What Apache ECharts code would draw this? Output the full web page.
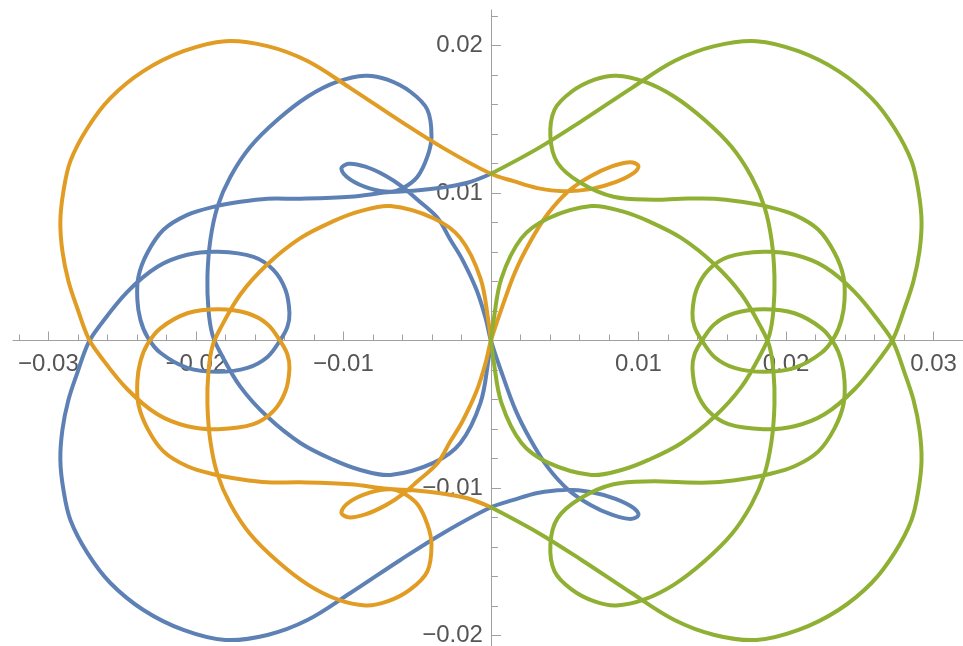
<!DOCTYPE html>
<html>
<head>
<meta charset="utf-8">
<script src="https://cdn.jsdelivr.net/npm/echarts@6/dist/echarts.min.js"></script>
<style>
  html, body { margin: 0; padding: 0; background: #fff; }
  #chart { width: 963px; height: 646px; }
</style>
</head>
<body>
<div id="chart"></div>
<script>
// curve points, [x, y]
const blueCurve = [
  [0, 0.01130], [-0.00159, 0.01069], [-0.00342, 0.01035], [-0.00525, 0.01015],
  [-0.00702, 0.01005], [-0.00953, 0.00974], [-0.01292, 0.00961], [-0.01515, 0.00961],
  [-0.01698, 0.00940], [-0.01881, 0.00906], [-0.02058, 0.00852], [-0.02220, 0.00751],
  [-0.02329, 0.00595], [-0.02390, 0.00432], [-0.02397, 0.00276], [-0.02376, 0.00140],
  [-0.02329, 0.00025], [-0.02241, -0.00083], [-0.02058, -0.00185], [-0.01848, -0.00212],
  [-0.01651, -0.00185], [-0.01515, -0.00111], [-0.01427, 0.00005], [-0.01380, 0.00093],
  [-0.01366, 0.00188], [-0.01393, 0.00344], [-0.01475, 0.00479], [-0.01610, 0.00567],
  [-0.01848, 0.00601], [-0.02058, 0.00581], [-0.02261, 0.00500], [-0.02465, 0.00330],
  [-0.02648, 0.00106], [-0.02729, -0.00016], [-0.02804, -0.00219], [-0.02864, -0.00402],
  [-0.02905, -0.00605], [-0.02919, -0.00809], [-0.02898, -0.01012], [-0.02851, -0.01216],
  [-0.02736, -0.01439], [-0.02580, -0.01643], [-0.02356, -0.01826], [-0.02085, -0.01961],
  [-0.01800, -0.02029], [-0.01515, -0.01995], [-0.01244, -0.01894], [-0.00953, -0.01711],
  [-0.00614, -0.01487], [-0.00322, -0.01304], [0, -0.01130], [0.00153, -0.01080],
  [0.00315, -0.01033], [0.00492, -0.01012], [0.00675, -0.01026], [0.00844, -0.01073],
  [0.00966, -0.01134], [0.01000, -0.01182], [0.00946, -0.01209], [0.00824, -0.01182],
  [0.00675, -0.01114], [0.00525, -0.01012], [0.00383, -0.00856], [0.00268, -0.00673],
  [0.00166, -0.00470], [0.00078, -0.00233], [0, 0], [-0.00037, 0.00154],
  [-0.00098, 0.00344], [-0.00193, 0.00547], [-0.00275, 0.00683], [-0.00363, 0.00832],
  [-0.00498, 0.00954], [-0.00600, 0.01042], [-0.00715, 0.01117], [-0.00851, 0.01178],
  [-0.00966, 0.01198], [-0.01014, 0.01164], [-0.00953, 0.01090], [-0.00817, 0.01029],
  [-0.00681, 0.01008], [-0.00593, 0.01035], [-0.00498, 0.01110], [-0.00431, 0.01246],
  [-0.00403, 0.01381], [-0.00431, 0.01564], [-0.00546, 0.01686], [-0.00702, 0.01768],
  [-0.00851, 0.01795], [-0.01041, 0.01754], [-0.01244, 0.01652], [-0.01447, 0.01496],
  [-0.01631, 0.01313], [-0.01766, 0.01110], [-0.01854, 0.00906], [-0.01902, 0.00683],
  [-0.01922, 0.00432], [-0.01915, 0.00208], [-0.01888, 0.00039], [-0.01834, -0.00083],
  [-0.01698, -0.00314], [-0.01515, -0.00517], [-0.01292, -0.00694], [-0.01068, -0.00809],
  [-0.00885, -0.00877], [-0.00681, -0.00911], [-0.00390, -0.00829], [-0.00207, -0.00694],
  [-0.00071, -0.00422], [-0.00017, -0.00131], [0, 0]
];

const orangeCurve = [
  [0, -0.01130], [-0.00159, -0.01069], [-0.00342, -0.01035], [-0.00525, -0.01015],
  [-0.00702, -0.01005], [-0.00953, -0.00974], [-0.01292, -0.00961], [-0.01515, -0.00961],
  [-0.01698, -0.00940], [-0.01881, -0.00906], [-0.02058, -0.00852], [-0.02220, -0.00751],
  [-0.02329, -0.00595], [-0.02390, -0.00432], [-0.02397, -0.00276], [-0.02376, -0.00140],
  [-0.02329, -0.00025], [-0.02241, 0.00083], [-0.02058, 0.00185], [-0.01848, 0.00212],
  [-0.01651, 0.00185], [-0.01515, 0.00111], [-0.01427, -0.00005], [-0.01380, -0.00093],
  [-0.01366, -0.00188], [-0.01393, -0.00344], [-0.01475, -0.00479], [-0.01610, -0.00567],
  [-0.01848, -0.00601], [-0.02058, -0.00581], [-0.02261, -0.00500], [-0.02465, -0.00330],
  [-0.02648, -0.00106], [-0.02729, 0.00016], [-0.02804, 0.00219], [-0.02864, 0.00402],
  [-0.02905, 0.00605], [-0.02919, 0.00809], [-0.02898, 0.01012], [-0.02851, 0.01216],
  [-0.02736, 0.01439], [-0.02580, 0.01643], [-0.02356, 0.01826], [-0.02085, 0.01961],
  [-0.01800, 0.02029], [-0.01515, 0.01995], [-0.01244, 0.01894], [-0.00953, 0.01711],
  [-0.00614, 0.01487], [-0.00322, 0.01304], [0, 0.01130], [0.00153, 0.01080],
  [0.00315, 0.01033], [0.00492, 0.01012], [0.00675, 0.01026], [0.00844, 0.01073],
  [0.00966, 0.01134], [0.01000, 0.01182], [0.00946, 0.01209], [0.00824, 0.01182],
  [0.00675, 0.01114], [0.00525, 0.01012], [0.00383, 0.00856], [0.00268, 0.00673],
  [0.00166, 0.00470], [0.00078, 0.00233], [0, 0], [-0.00037, -0.00154],
  [-0.00098, -0.00344], [-0.00193, -0.00547], [-0.00275, -0.00683], [-0.00363, -0.00832],
  [-0.00498, -0.00954], [-0.00600, -0.01042], [-0.00715, -0.01117], [-0.00851, -0.01178],
  [-0.00966, -0.01198], [-0.01014, -0.01164], [-0.00953, -0.01090], [-0.00817, -0.01029],
  [-0.00681, -0.01008], [-0.00593, -0.01035], [-0.00498, -0.01110], [-0.00431, -0.01246],
  [-0.00403, -0.01381], [-0.00431, -0.01564], [-0.00546, -0.01686], [-0.00702, -0.01768],
  [-0.00851, -0.01795], [-0.01041, -0.01754], [-0.01244, -0.01652], [-0.01447, -0.01496],
  [-0.01631, -0.01313], [-0.01766, -0.01110], [-0.01854, -0.00906], [-0.01902, -0.00683],
  [-0.01922, -0.00432], [-0.01915, -0.00208], [-0.01888, -0.00039], [-0.01834, 0.00083],
  [-0.01698, 0.00314], [-0.01515, 0.00517], [-0.01292, 0.00694], [-0.01068, 0.00809],
  [-0.00885, 0.00877], [-0.00681, 0.00911], [-0.00390, 0.00829], [-0.00207, 0.00694],
  [-0.00071, 0.00422], [-0.00017, 0.00131], [0, 0]
];

// green, part running out to the bottom crossing of the y axis
const greenCurveA = [
  [0, 0], [0.00017, -0.00131], [0.00071, -0.00422], [0.00207, -0.00694],
  [0.00390, -0.00829], [0.00681, -0.00911], [0.00885, -0.00877], [0.01068, -0.00809],
  [0.01292, -0.00694], [0.01515, -0.00517], [0.01698, -0.00314], [0.01834, -0.00083],
  [0.01888, 0.00039], [0.01915, 0.00208], [0.01922, 0.00432], [0.01902, 0.00683],
  [0.01854, 0.00906], [0.01766, 0.01110], [0.01631, 0.01313], [0.01447, 0.01496],
  [0.01244, 0.01652], [0.01041, 0.01754], [0.00851, 0.01795], [0.00702, 0.01768],
  [0.00546, 0.01686], [0.00431, 0.01564], [0.00403, 0.01381], [0.00451, 0.01205],
  [0.00607, 0.01069], [0.00831, 0.00974], [0.01102, 0.00954], [0.01292, 0.00961],
  [0.01515, 0.00961], [0.01698, 0.00940], [0.01881, 0.00906], [0.02058, 0.00852],
  [0.02220, 0.00751], [0.02329, 0.00595], [0.02390, 0.00432], [0.02397, 0.00276],
  [0.02376, 0.00140], [0.02329, 0.00025], [0.02241, -0.00083], [0.02058, -0.00185],
  [0.01848, -0.00212], [0.01651, -0.00185], [0.01515, -0.00111], [0.01427, 0.00005],
  [0.01380, 0.00093], [0.01366, 0.00188], [0.01393, 0.00344], [0.01475, 0.00479],
  [0.01610, 0.00567], [0.01848, 0.00601], [0.02058, 0.00581], [0.02261, 0.00500],
  [0.02465, 0.00330], [0.02648, 0.00106], [0.02729, -0.00016], [0.02804, -0.00219],
  [0.02864, -0.00402], [0.02905, -0.00605], [0.02919, -0.00809], [0.02898, -0.01012],
  [0.02851, -0.01216], [0.02736, -0.01439], [0.02580, -0.01643], [0.02356, -0.01826],
  [0.02085, -0.01961], [0.01800, -0.02029], [0.01515, -0.01995], [0.01244, -0.01894],
  [0.00953, -0.01711], [0.00614, -0.01487], [0.00322, -0.01304], [0, -0.01130]
];

// green, part running out to the top crossing of the y axis
const greenCurveB = [
  [0, 0], [0.00017, 0.00131], [0.00071, 0.00422], [0.00207, 0.00694],
  [0.00390, 0.00829], [0.00681, 0.00911], [0.00885, 0.00877], [0.01068, 0.00809],
  [0.01292, 0.00694], [0.01515, 0.00517], [0.01698, 0.00314], [0.01834, 0.00083],
  [0.01888, -0.00039], [0.01915, -0.00208], [0.01922, -0.00432], [0.01902, -0.00683],
  [0.01854, -0.00906], [0.01766, -0.01110], [0.01631, -0.01313], [0.01447, -0.01496],
  [0.01244, -0.01652], [0.01041, -0.01754], [0.00851, -0.01795], [0.00702, -0.01768],
  [0.00546, -0.01686], [0.00431, -0.01564], [0.00403, -0.01381], [0.00451, -0.01205],
  [0.00607, -0.01069], [0.00831, -0.00974], [0.01102, -0.00954], [0.01292, -0.00961],
  [0.01515, -0.00961], [0.01698, -0.00940], [0.01881, -0.00906], [0.02058, -0.00852],
  [0.02220, -0.00751], [0.02329, -0.00595], [0.02390, -0.00432], [0.02397, -0.00276],
  [0.02376, -0.00140], [0.02329, -0.00025], [0.02241, 0.00083], [0.02058, 0.00185],
  [0.01848, 0.00212], [0.01651, 0.00185], [0.01515, 0.00111], [0.01427, -0.00005],
  [0.01380, -0.00093], [0.01366, -0.00188], [0.01393, -0.00344], [0.01475, -0.00479],
  [0.01610, -0.00567], [0.01848, -0.00601], [0.02058, -0.00581], [0.02261, -0.00500],
  [0.02465, -0.00330], [0.02648, -0.00106], [0.02729, 0.00016], [0.02804, 0.00219],
  [0.02864, 0.00402], [0.02905, 0.00605], [0.02919, 0.00809], [0.02898, 0.01012],
  [0.02851, 0.01216], [0.02736, 0.01439], [0.02580, 0.01643], [0.02356, 0.01826],
  [0.02085, 0.01961], [0.01800, 0.02029], [0.01515, 0.01995], [0.01244, 0.01894],
  [0.00953, 0.01711], [0.00614, 0.01487], [0.00322, 0.01304], [0, 0.01130]
];

// tick positions
const xMajorTicks = [-0.03, -0.02, -0.01, 0.01, 0.02, 0.03];
const xMinorTicks = [-0.032, -0.028, -0.026, -0.024, -0.022, -0.018, -0.016, -0.014, -0.012,
  -0.008, -0.006, -0.004, -0.002, 0.002, 0.004, 0.006, 0.008, 0.012, 0.014, 0.016, 0.018,
  0.022, 0.024, 0.026, 0.028, 0.032];
const yMajorTicks = [-0.02, -0.01, 0.01, 0.02];
const yMinorTicks = [-0.018, -0.016, -0.014, -0.012, -0.008, -0.006, -0.004, -0.002,
  0.002, 0.004, 0.006, 0.008, 0.012, 0.014, 0.016, 0.018, 0.022];

const axisGray = '#a0a0a0';
const labelFont = {
  fontFamily: '"Liberation Sans", Arial, sans-serif',
  fontSize: 24,
  color: '#555555'
};

function fmt(v) {
  return (v < 0 ? '\u2212' : '') + Math.abs(v).toFixed(2);
}

const W = 963, H = 646;
const gridBox = { left: 13, right: 0, top: 10, bottom: 0 };
const xRange = { min: -0.0324, max: 0.0320 };
const yRange = { min: -0.0207, max: 0.0224 };

// the axes cross at (0, 0): shift them there from the grid edges
const gridW = W - gridBox.left - gridBox.right;
const gridH = H - gridBox.top - gridBox.bottom;
const zeroX = gridBox.left + (0 - xRange.min) / (xRange.max - xRange.min) * gridW;
const zeroY = gridBox.top + (yRange.max - 0) / (yRange.max - yRange.min) * gridH;
const xAxisShift = zeroY - (H - gridBox.bottom); // negative: move bottom axis up
const yAxisShift = gridBox.left - zeroX;         // negative: move left axis right

let chart = echarts.init(document.getElementById('chart'), null, { renderer: 'canvas' });

// one smooth path per curve, points placed through the cartesian axes
function curve(data, color) {
  return {
    type: 'custom',
    coordinateSystem: 'cartesian2d',
    data: data,
    clip: true,
    silent: true,
    renderItem: function (params, api) {
      if (params.dataIndex !== 0) return null;
      const pts = data.map(p => api.coord(p));
      return {
        type: 'polyline',
        shape: { points: pts, smooth: 0.35 },
        style: { stroke: color, lineWidth: 4, fill: null, lineJoin: 'round', lineCap: 'round' }
      };
    },
    z: 3
  };
}

// main axis carries the line, long ticks and labels; second one only the short ticks
function xAxisOf(ticks, len, withLabels) {
  return {
    type: 'value', min: xRange.min, max: xRange.max, position: 'bottom',
    offset: xAxisShift,
    axisLine: { onZero: false, lineStyle: { color: withLabels ? axisGray : 'rgba(0,0,0,0)', width: 1 } },
    axisTick: { show: true, inside: true, length: len, customValues: ticks, lineStyle: { color: axisGray } },
    axisLabel: withLabels
      ? Object.assign({ customValues: ticks, margin: 12, formatter: fmt }, labelFont)
      : { show: false },
    splitLine: { show: false }
  };
}

function yAxisOf(ticks, len, withLabels) {
  return {
    type: 'value', min: yRange.min, max: yRange.max, position: 'left',
    offset: yAxisShift,
    axisLine: { onZero: false, lineStyle: { color: withLabels ? axisGray : 'rgba(0,0,0,0)', width: 1 } },
    axisTick: { show: true, inside: true, length: len, customValues: ticks, lineStyle: { color: axisGray } },
    axisLabel: withLabels
      ? Object.assign({ customValues: ticks, margin: 8, formatter: fmt }, labelFont)
      : { show: false },
    splitLine: { show: false }
  };
}

chart.setOption({
  animation: false,
  backgroundColor: '#ffffff',
  grid: Object.assign({ containLabel: false, outerBoundsMode: 'none' }, gridBox),
  xAxis: [xAxisOf(xMajorTicks, 9, true), xAxisOf(xMinorTicks, 6, false)],
  yAxis: [yAxisOf(yMajorTicks, 10, true), yAxisOf(yMinorTicks, 7, false)],
  series: [
    curve(blueCurve, '#5e81b5'),
    curve(orangeCurve, '#e19c24'),
    curve(greenCurveA, '#8fb032'),
    curve(greenCurveB, '#8fb032')
  ]
});
</script>
</body>
</html>
